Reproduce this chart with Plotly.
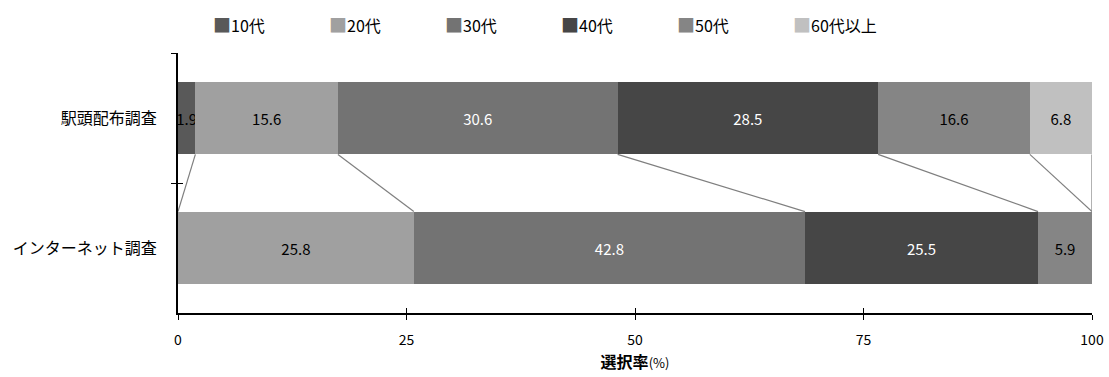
import plotly.graph_objects as go

# Survey rows, top to bottom
surveys = ["駅頭配布調査", "インターネット調査"]
age_groups = ["10代", "20代", "30代", "40代", "50代", "60代以上"]

# Share (%) of respondents by age group for each survey
station_survey = [1.9, 15.6, 30.6, 28.5, 16.6, 6.8]
internet_survey = [0.0, 25.8, 42.8, 25.5, 5.9, 0.0]

x_ticks = [0, 25, 50, 75, 100]

colors = ["#595959", "#a0a0a0", "#737373", "#464646", "#858585", "#c0c0c0"]
text_colors = ["black", "black", "white", "white", "black", "black"]

BAR_WIDTH = 0.56
JP_FONT = "Noto Sans CJK JP"

W, H = 1109, 377
M_L, M_R, M_T, M_B = 178, 17, 53, 64
PLOT_W = W - M_L - M_R
PLOT_H = H - M_T - M_B

fig = go.Figure()

for i, group in enumerate(age_groups):
    vals = [station_survey[i], internet_survey[i]]
    labels = ["" if v == 0 else f"{v:.1f}" for v in vals]
    fig.add_trace(go.Bar(
        name=group,
        y=surveys,
        x=vals,
        orientation="h",
        width=BAR_WIDTH,
        marker=dict(color=colors[i], line=dict(width=0)),
        text=labels,
        textposition="inside",
        insidetextanchor="middle",
        constraintext="none",
        textfont=dict(family=JP_FONT, size=15, color=text_colors[i]),
        hoverinfo="skip",
        showlegend=False,
    ))

# Invisible trace carrying the inner half of the crossing tick marks
fig.add_trace(go.Scatter(x=[0, 100], y=surveys, xaxis="x2", yaxis="y2",
                         mode="markers", marker=dict(opacity=0),
                         hoverinfo="skip", showlegend=False))

# Series lines joining the segment boundaries of the two bars
top_edge = 0 + BAR_WIDTH / 2
bottom_edge = 1 - BAR_WIDTH / 2
cum_a, cum_b = 0.0, 0.0
for a, b in zip(station_survey, internet_survey):
    cum_a += a
    cum_b += b
    fig.add_shape(type="line", xref="x", yref="y",
                  x0=cum_a, y0=top_edge, x1=cum_b, y1=bottom_edge,
                  line=dict(color="#7f7f7f", width=1.2), layer="below")

# Legend row drawn as coloured squares followed by the group name
LEGEND_X0 = 211
LEGEND_STEP = 116
for i, group in enumerate(age_groups):
    px = LEGEND_X0 + i * LEGEND_STEP
    fig.add_annotation(
        xref="paper", yref="paper",
        x=(px - M_L) / PLOT_W, y=1 + (M_T - 24) / PLOT_H,
        xanchor="left", yanchor="middle",
        text=f'<span style="color:{colors[i]};font-size:18px">■</span>{group}',
        showarrow=False,
        font=dict(family=JP_FONT, size=16, color="black"),
    )

tick_common = dict(ticklen=5, tickwidth=1, tickcolor="black",
                   showgrid=False, zeroline=False)

fig.update_layout(
    barmode="stack",
    width=W,
    height=H,
    margin=dict(l=M_L, r=M_R, t=M_T, b=M_B, autoexpand=False),
    plot_bgcolor="white",
    paper_bgcolor="white",
    font=dict(family=JP_FONT, color="black"),
    showlegend=False,
    xaxis=dict(
        range=[0, 100],
        tickvals=x_ticks,
        ticks="outside",
        showline=True, linecolor="black", linewidth=2,
        automargin=False,
        ticklabelstandoff=8,
        tickfont=dict(family=JP_FONT, size=14, color="black"),
        title=dict(text='<b>選択率</b><span style="font-size:13px">(%)</span>',
                   font=dict(family=JP_FONT, size=16, color="black"),
                   standoff=4),
        **tick_common,
    ),
    yaxis=dict(
        categoryorder="array", categoryarray=surveys,
        autorange="reversed",
        tickson="boundaries",
        ticks="outside",
        showline=True, linecolor="black", linewidth=2,
        automargin=False,
        ticklabelstandoff=16,
        tickfont=dict(family=JP_FONT, size=16, color="black"),
        **tick_common,
    ),
    xaxis2=dict(
        overlaying="x", anchor="y2", side="bottom",
        range=[0, 100], tickvals=x_ticks,
        ticks="inside", showticklabels=False, showline=False,
        **tick_common,
    ),
    yaxis2=dict(
        overlaying="y", anchor="x2", side="left",
        categoryorder="array", categoryarray=surveys,
        autorange="reversed", tickson="boundaries",
        ticks="inside", showticklabels=False, showline=False,
        **tick_common,
    ),
)

fig.write_html("out.html")
